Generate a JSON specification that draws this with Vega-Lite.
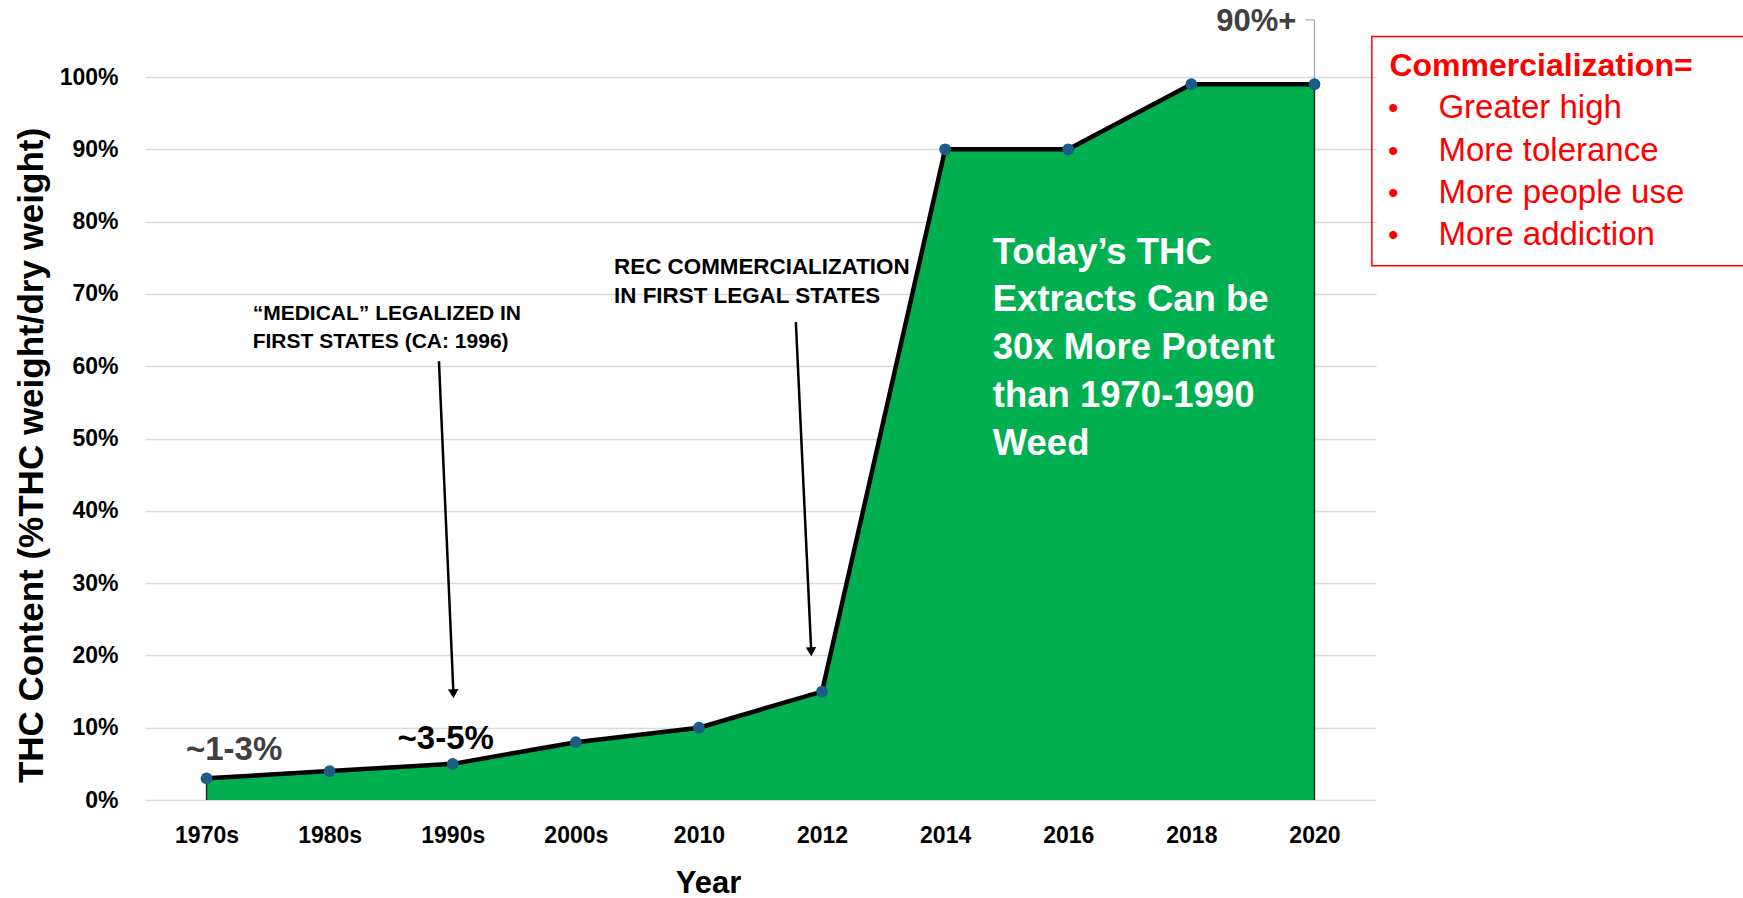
{
  "$schema": "https://vega.github.io/schema/vega-lite/v6.json",
  "width": 1231,
  "height": 723,
  "autosize": {"type": "none"},
  "padding": {"left": 145, "top": 77, "right": 367, "bottom": 98},
  "background": "white",
  "config": {"view": {"stroke": null}, "font": "Liberation Sans"},
  "data": {"values": [
    {"year": "1970s", "thc": 0.03},
    {"year": "1980s", "thc": 0.04},
    {"year": "1990s", "thc": 0.05},
    {"year": "2000s", "thc": 0.08},
    {"year": "2010", "thc": 0.10},
    {"year": "2012", "thc": 0.15},
    {"year": "2014", "thc": 0.90},
    {"year": "2016", "thc": 0.90},
    {"year": "2018", "thc": 0.99},
    {"year": "2020", "thc": 0.99}
  ]},
  "encoding": {
    "x": {
      "field": "year", "type": "ordinal", "sort": null,
      "scale": {"type": "point", "padding": 0.5},
      "axis": {
        "title": "Year", "titleFont": "Liberation Sans", "titleFontSize": 31, "titleFontWeight": "bold", "titleColor": "#000000",
        "titleX": 563, "titleY": 92, "titleAlign": "center", "titleBaseline": "alphabetic",
        "labelFont": "Liberation Sans", "labelFontSize": 23, "labelFontWeight": "bold", "labelColor": "#000000",
        "labelAngle": 0, "labelBaseline": "alphabetic", "labelPadding": 42, "labelOverlap": false,
        "ticks": false, "tickSize": 0, "domain": false, "grid": false
      }
    },
    "y": {
      "field": "thc", "type": "quantitative",
      "scale": {"domain": [0, 1], "nice": false},
      "axis": {
        "title": "THC Content (%THC weight/dry weight)", "titleFont": "Liberation Sans", "titleFontSize": 35, "titleFontWeight": "bold", "titleColor": "#000000",
        "titleAngle": 270, "titleX": -103, "titleY": 378, "titleAlign": "center", "titleBaseline": "alphabetic",
        "format": ".0%", "values": [0, 0.1, 0.2, 0.3, 0.4, 0.5, 0.6, 0.7, 0.8, 0.9, 1],
        "labelFont": "Liberation Sans", "labelFontSize": 23, "labelFontWeight": "bold", "labelColor": "#000000",
        "labelPadding": 27, "ticks": false, "tickSize": 0, "domain": false,
        "grid": true, "gridColor": "#D9D9D9", "gridWidth": 1.5
      }
    }
  },
  "layer": [
    {"mark": {"type": "area", "color": "#00B050", "opacity": 1}},
    {
      "transform": [{"filter": "datum.year == '1970s' || datum.year == '2020'"}],
      "mark": {"type": "rule", "color": "#262626", "strokeWidth": 1.5},
      "encoding": {"y": {"datum": 0}, "y2": {"field": "thc"}}
    },
    {"mark": {"type": "line", "color": "#000000", "strokeWidth": 4.5}},
    {
      "transform": [{"filter": "datum.year == '2020'"}],
      "mark": {"type": "rule", "color": "#A6A6A6", "strokeWidth": 1.2, "xOffset": -9.3},
      "encoding": {"x": {"datum": "2020"}, "x2": {"datum": "2020"}, "y": {"datum": 1.079}}
    },
    {
      "transform": [{"filter": "datum.year == '2020'"}],
      "mark": {"type": "rule", "color": "#A6A6A6", "strokeWidth": 1.2},
      "encoding": {"x": {"datum": "2020"}, "y": {"datum": 1.079}, "y2": {"datum": 0.99}}
    },
    {"mark": {"type": "point", "filled": true, "color": "#1D5C87", "size": 140, "opacity": 1}},
    {
      "transform": [{"filter": "datum.year == '1990s'"}],
      "mark": {"type": "rule", "color": "#000000", "strokeWidth": 2.5, "xOffset": -13.8, "x2Offset": 0.6},
      "encoding": {"x": {"datum": "1990s"}, "x2": {"datum": "1990s"}, "y": {"datum": 0.607}, "y2": {"datum": 0.15}}
    },
    {
      "transform": [{"filter": "datum.year == '1990s'"}],
      "mark": {"type": "point", "shape": "triangle-down", "filled": true, "color": "#000000", "opacity": 1, "size": 110, "angle": 357.5, "xOffset": 0.6},
      "encoding": {"x": {"datum": "1990s"}, "y": {"datum": 0.147}}
    },
    {
      "transform": [{"filter": "datum.year == '2012'"}],
      "mark": {"type": "rule", "color": "#000000", "strokeWidth": 2.5, "xOffset": -26.2, "x2Offset": -10.9},
      "encoding": {"x": {"datum": "2012"}, "x2": {"datum": "2012"}, "y": {"datum": 0.661}, "y2": {"datum": 0.208}}
    },
    {
      "transform": [{"filter": "datum.year == '2012'"}],
      "mark": {"type": "point", "shape": "triangle-down", "filled": true, "color": "#000000", "opacity": 1, "size": 110, "angle": 357.5, "xOffset": -10.9},
      "encoding": {"x": {"datum": "2012"}, "y": {"datum": 0.205}}
    },
    {
      "transform": [{"filter": "datum.year == '1980s'"}],
      "mark": {"type": "text", "text": ["“MEDICAL” LEGALIZED IN", "FIRST STATES (CA: 1996)"], "align": "left", "baseline": "alphabetic", "dx": -77, "fontSize": 21, "fontWeight": "bold", "color": "#000000", "lineHeight": 28.3},
      "encoding": {"x": {"datum": "1980s"}, "y": {"datum": 0.664}}
    },
    {
      "transform": [{"filter": "datum.year == '2012'"}],
      "mark": {"type": "text", "text": ["REC COMMERCIALIZATION", "IN FIRST LEGAL STATES"], "align": "left", "baseline": "alphabetic", "dx": -208, "fontSize": 22.4, "fontWeight": "bold", "color": "#000000", "lineHeight": 29},
      "encoding": {"x": {"datum": "2012"}, "y": {"datum": 0.728}}
    },
    {
      "transform": [{"filter": "datum.year == '1970s'"}],
      "mark": {"type": "text", "text": "~1-3%", "align": "center", "baseline": "alphabetic", "dx": 27.6, "fontSize": 33, "fontWeight": "bold", "color": "#404040"},
      "encoding": {"x": {"datum": "1970s"}, "y": {"datum": 0.0554}}
    },
    {
      "transform": [{"filter": "datum.year == '1990s'"}],
      "mark": {"type": "text", "text": "~3-5%", "align": "center", "baseline": "alphabetic", "dx": -7, "fontSize": 33, "fontWeight": "bold", "color": "#000000"},
      "encoding": {"x": {"datum": "1990s"}, "y": {"datum": 0.0706}}
    },
    {
      "transform": [{"filter": "datum.year == '2020'"}],
      "mark": {"type": "text", "text": "90%+", "align": "right", "baseline": "alphabetic", "dx": -18, "fontSize": 31, "fontWeight": "bold", "color": "#404040"},
      "encoding": {"x": {"datum": "2020"}, "y": {"datum": 1.064}}
    },
    {
      "transform": [{"filter": "datum.year == '2014'"}],
      "mark": {"type": "text", "text": ["Today’s THC", "Extracts Can be", "30x More Potent", "than 1970-1990", "Weed"], "align": "left", "baseline": "alphabetic", "dx": 47.6, "fontSize": 36.5, "fontWeight": "bold", "color": "#FFFFFF", "lineHeight": 47.9},
      "encoding": {"x": {"datum": "2014"}, "y": {"datum": 0.742}}
    },
    {
      "transform": [{"filter": "datum.year == '2020'"}],
      "mark": {"type": "rect", "fillOpacity": 0, "stroke": "#FF0000", "strokeWidth": 1.5, "xOffset": 57.4, "x2Offset": 440},
      "encoding": {"x": {"datum": "2020"}, "x2": {"datum": "2020"}, "y": {"datum": 1.056}, "y2": {"datum": 0.739}}
    },
    {
      "transform": [{"filter": "datum.year == '2020'"}],
      "mark": {"type": "text", "text": "Commercialization=", "align": "left", "baseline": "alphabetic", "dx": 75, "fontSize": 32, "fontWeight": "bold", "color": "#FF0000"},
      "encoding": {"x": {"datum": "2020"}, "y": {"datum": 1.002}}
    },
    {
      "transform": [{"filter": "datum.year == '2020'"}],
      "mark": {"type": "text", "text": ["•", "•", "•", "•"], "align": "center", "baseline": "alphabetic", "dx": 78.7, "fontSize": 30, "color": "#FF0000", "lineHeight": 42.3},
      "encoding": {"x": {"datum": "2020"}, "y": {"datum": 0.943}}
    },
    {
      "transform": [{"filter": "datum.year == '2020'"}],
      "mark": {"type": "text", "text": ["Greater high", "More tolerance", "More people use", "More addiction"], "align": "left", "baseline": "alphabetic", "dx": 124, "fontSize": 33, "color": "#FF0000", "lineHeight": 42.3},
      "encoding": {"x": {"datum": "2020"}, "y": {"datum": 0.943}}
    }
  ]
}
